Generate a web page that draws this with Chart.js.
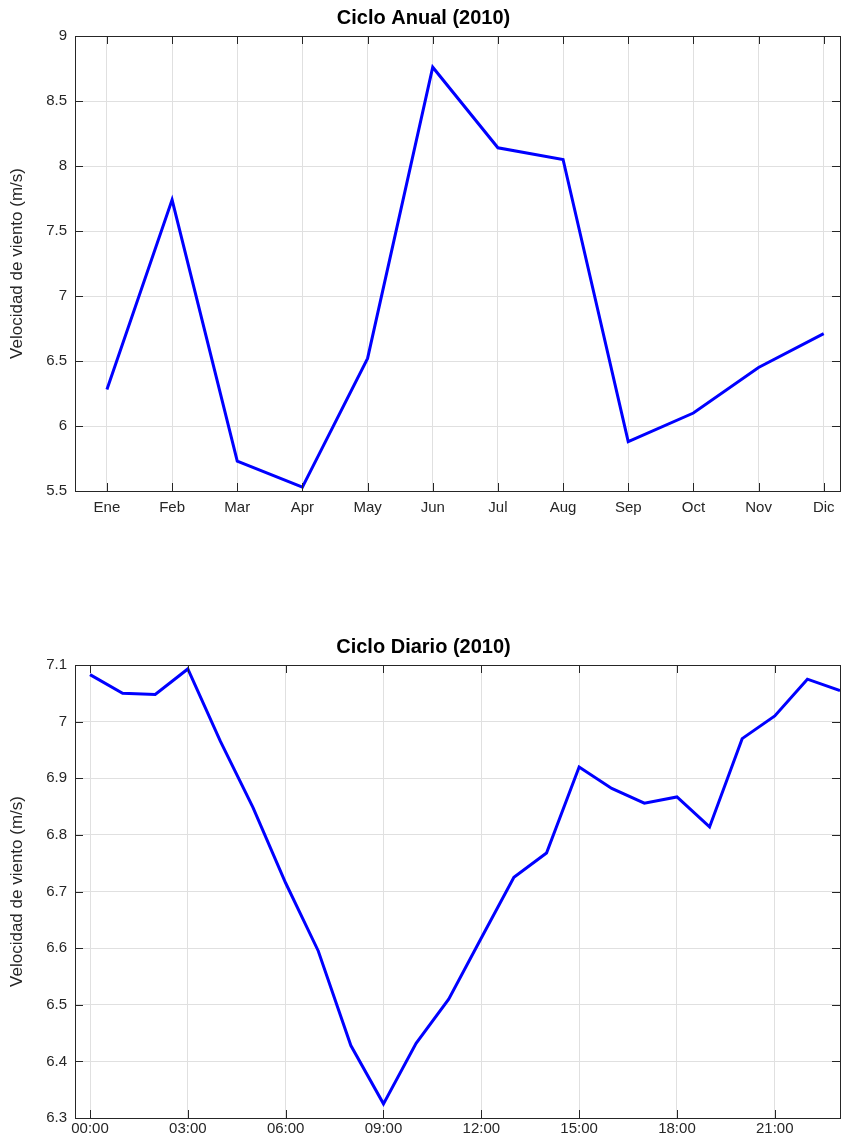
<!DOCTYPE html><html><head><script src="https://cdn.jsdelivr.net/npm/chart.js@4"></script>
<style>body{margin:0;background:#fff}.w{position:absolute;left:0;width:845px}</style></head><body>
<div class="w" style="top:0;height:540px"><canvas id="c1"></canvas></div>
<div class="w" style="top:629px;height:513px"><canvas id="c2"></canvas></div>
<script>
const months=['Ene','Feb','Mar','Apr','May','Jun','Jul','Aug','Sep','Oct','Nov','Dic'];
const annual=[6.28,7.74,5.73,5.53,6.52,8.76,8.14,8.05,5.88,6.10,6.45,6.71];
const hours=[0,1,2,3,4,5,6,7,8,9,10,11,12,13,14,15,16,17,18,19,20,21,22,23];
const daily=[7.083,7.050,7.048,7.093,6.965,6.848,6.715,6.595,6.428,6.325,6.432,6.510,6.618,6.725,6.768,6.920,6.882,6.856,6.867,6.814,6.970,7.010,7.075,7.055];
const F='Liberation Sans, Arial, sans-serif';
const box={id:'box',afterDraw(c){const a=c.chartArea,x=c.ctx;x.save();x.strokeStyle='#262626';x.lineWidth=1;x.strokeRect(a.left+.5,a.top+.5,a.right-a.left,a.bottom-a.top);
 const xs=c.scales.x,ys=c.scales.y;x.beginPath();
 xs.ticks.forEach(t=>{const p=Math.round(xs.getPixelForValue(t.value))+.5;x.moveTo(p,a.bottom);x.lineTo(p,a.bottom-8);x.moveTo(p,a.top);x.lineTo(p,a.top+8);});
 ys.ticks.forEach(t=>{const p=Math.round(ys.getPixelForValue(t.value))+.5;x.moveTo(a.left,p);x.lineTo(a.left+8,p);x.moveTo(a.right,p);x.lineTo(a.right-8,p);});
 x.stroke();x.restore();}};
const fmt=v=>String(Math.round(v*10)/10);
function mk(id,xs,ys,title,xo,yo,xh){
 new Chart(document.getElementById(id),{type:'line',
  data:{datasets:[{data:xs.map((v,i)=>({x:v,y:ys[i]})),borderColor:'#0000ff',borderWidth:3,pointRadius:0,tension:0}]},
  options:{responsive:true,maintainAspectRatio:false,animation:false,
   layout:{padding:{right:5,top:0,bottom:0,left:7}},
   plugins:{legend:{display:false},title:{display:true,text:title,color:'#000',font:{family:F,size:20,weight:'bold'},padding:{top:6,bottom:6}}},
   scales:{x:Object.assign({type:'linear',grid:{color:'#e0e0e0',tickLength:0},border:{color:'#262626'},afterFit(s){s.height=xh;}},xo),
    y:Object.assign({grid:{color:'#e0e0e0',tickLength:0},border:{color:'#262626'},
     title:{display:true,text:'Velocidad de viento (m/s)',color:'#262626',font:{family:F,size:17},padding:0},afterFit(s){s.width=68;}},yo)}},
  plugins:[box]});
}
mk('c1',[1,2,3,4,5,6,7,8,9,10,11,12],annual,'Ciclo Anual (2010)',
 {min:0.51,max:12.25,afterBuildTicks(s){s.ticks=months.map((m,i)=>({value:i+1}));},ticks:{color:'#262626',font:{family:F,size:15},padding:8,maxRotation:0,autoSkip:false,callback:v=>months[v-1]}},
 {min:5.5,max:9,ticks:{color:'#262626',font:{family:F,size:15},padding:8,stepSize:0.5,callback:fmt}},49);
mk('c2',hours,daily,'Ciclo Diario (2010)',
 {min:-0.46,max:23,afterBuildTicks(s){s.ticks=[0,3,6,9,12,15,18,21].map(v=>({value:v}));},ticks:{color:'#262626',font:{family:F,size:15},padding:2,maxRotation:0,autoSkip:false,callback:v=>String(v).padStart(2,'0')+':00'}},
 {min:6.3,max:7.1,ticks:{color:'#262626',font:{family:F,size:15},padding:8,stepSize:0.1,callback:fmt}},24);
</script></body></html>
